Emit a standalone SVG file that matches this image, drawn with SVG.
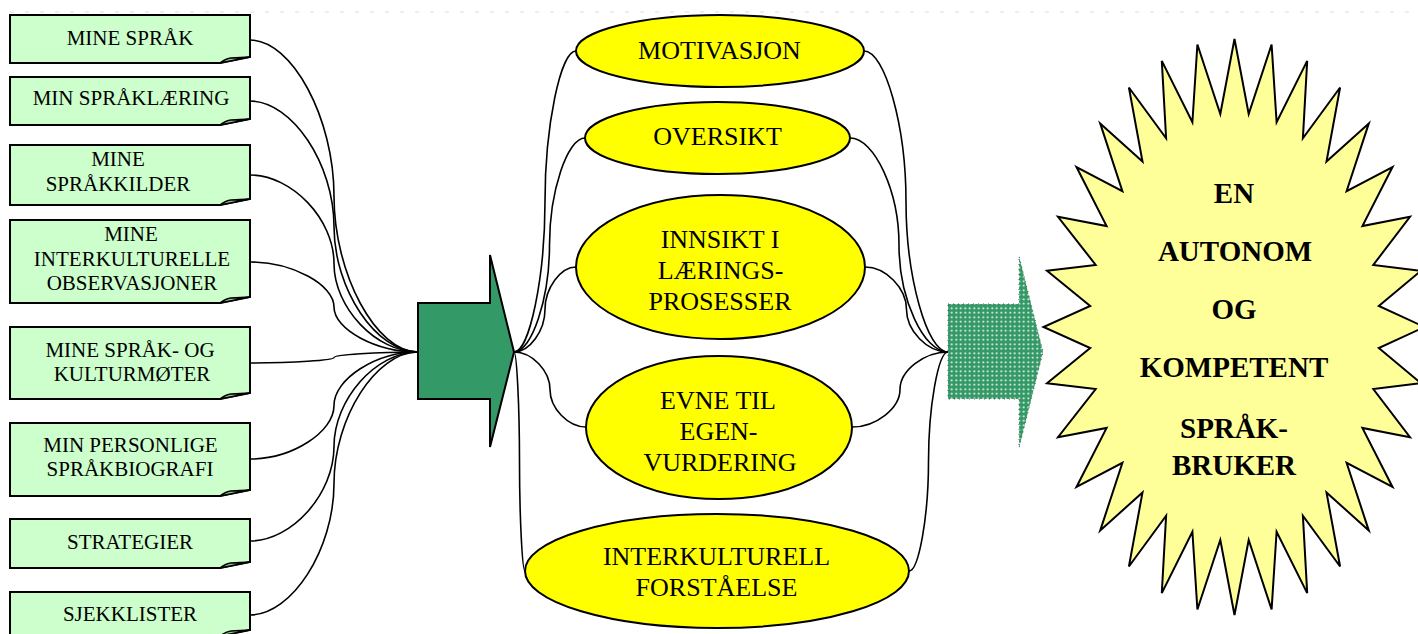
<svg xmlns="http://www.w3.org/2000/svg" width="1418" height="634" viewBox="0 0 1418 634">
<style>
.box{fill:#CCFFCC;stroke:#000;stroke-width:2}
.fold{fill:#99CC99;stroke:#000;stroke-width:1.5;stroke-linejoin:round}
.bt{font-family:"Liberation Serif","Times New Roman",serif;font-size:21px;fill:#000;text-anchor:middle}
.ell{fill:#FFFF00;stroke:#000;stroke-width:2}
.et{font-family:"Liberation Serif","Times New Roman",serif;font-size:26px;fill:#000;text-anchor:middle}
.st{font-family:"Liberation Serif","Times New Roman",serif;font-size:29px;font-weight:bold;fill:#000;text-anchor:middle}
.con path{fill:none;stroke:#000;stroke-width:1.6}
</style>
<defs>
<pattern id="dots" width="4.5" height="4.5" patternUnits="userSpaceOnUse">
<rect width="4.5" height="4.5" fill="#339966"/>
<circle cx="2.25" cy="2.25" r="1" fill="#ffffff"/>
</pattern>
</defs>
<rect width="1418" height="634" fill="#ffffff"/>
<line x1="10" y1="12" x2="1418" y2="12" stroke="#d4e0e0" stroke-width="1" stroke-dasharray="4 11"/>

<g id="star">
<polygon fill="#FFFF99" stroke="#000" stroke-width="2" stroke-linejoin="miter" points="1234.5,39 1248.7,114 1271.6,44.5 1276.6,122.2 1307.2,60.9 1302.9,138.3 1340.1,87.5 1326.5,161.6 1368.8,123.4 1346.6,191.2 1392.5,167 1362.4,226.1 1410,216.8 1373.3,264.9 1421,270.8 1378.8,306 1424.5,327 1378.8,348 1421,383.2 1373.3,389.1 1410,437.2 1362.4,427.9 1392.5,487 1346.6,462.8 1368.8,530.6 1326.5,492.4 1340.1,566.5 1302.9,515.7 1307.2,593.1 1276.6,531.8 1271.6,609.5 1248.7,540 1234.5,615 1220.3,540 1197.4,609.5 1192.4,531.8 1161.8,593.1 1166.1,515.7 1128.9,566.5 1142.5,492.4 1100.2,530.6 1122.4,462.8 1076.5,487 1106.6,427.9 1058,437.2 1095.7,389.1 1047,383.2 1090.2,348 1043.5,327 1090.2,306 1047,270.8 1095.7,264.9 1058,216.8 1106.6,226.1 1076.5,167 1122.4,191.2 1100.2,123.4 1142.5,161.6 1128.9,87.5 1166.1,138.3 1161.8,60.9 1192.4,122.2 1197.4,44.5 1220.3,114"/>
<text class="st" x="1234" y="203">EN</text>
<text class="st" x="1235" y="261">AUTONOM</text>
<text class="st" x="1234" y="319">OG</text>
<text class="st" x="1234" y="377">KOMPETENT</text>
<text class="st" x="1234" y="438">SPRÅK-</text>
<text class="st" x="1234" y="475">BRUKER</text>
</g>

<g class="con" id="connectors">
<path d="M250,40 C292,40 334,118 334,196 C334,274 376,352 418,352"/>
<path d="M250,101 C292,101 334,163.75 334,226.5 C334,289.25 376,352 418,352"/>
<path d="M250,175 C292,175 334,219.25 334,263.5 C334,307.75 376,352 418,352"/>
<path d="M250,262 C292,262 334,284.5 334,307 C334,329.5 376,352 418,352"/>
<path d="M250,363 C292,363 334,360.25 334,357.5 C334,354.75 376,352 418,352"/>
<path d="M250,459 C292,459 334,432.25 334,405.5 C334,378.75 376,352 418,352"/>
<path d="M250,541 C292,541 334,493.75 334,446.5 C334,399.25 376,352 418,352"/>
<path d="M250,615 C292,615 334,549.25 334,483.5 C334,417.75 376,352 418,352"/>
<path d="M514,352 C529.5,352 545,276.75 545,201.5 C545,126.25 560.5,51 576,51"/>
<path d="M514,352 C531.75,352 549.5,298.5 549.5,245 C549.5,191.5 567.25,138 585,138"/>
<path d="M514,352 C529.5,352 545,330.75 545,309.5 C545,288.25 560.5,267 576,267"/>
<path d="M514,352 C532,352 550,370.75 550,389.5 C550,408.25 568,427 586,427"/>
<path d="M514,352 C516.75,352 519.5,406.75 519.5,461.5 C519.5,516.25 522.25,571 525,571"/>
<path d="M864,51 C885,51 906,126.25 906,201.5 C906,276.75 927,352 948,352"/>
<path d="M850,138 C874.5,138 899,191.5 899,245 C899,298.5 923.5,352 948,352"/>
<path d="M865,267 C885.75,267 906.5,288.25 906.5,309.5 C906.5,330.75 927.25,352 948,352"/>
<path d="M852,427 C876,427 900,408.25 900,389.5 C900,370.75 924,352 948,352"/>
<path d="M909,571 C918.75,571 928.5,516.25 928.5,461.5 C928.5,406.75 938.25,352 948,352"/>
</g>

<g id="box1">
<path class="box" d="M10,15 H250 V57 L220,63 H10 Z"/>
<path class="fold" d="M220,63 C224,60 226,58.5 231,58 L250,57 Z"/>
<text class="bt" x="130" y="44.5">MINE SPRÅK</text>
</g>
<g id="box2">
<path class="box" d="M10,77 H250 V119 L220,125 H10 Z"/>
<path class="fold" d="M220,125 C224,122 226,120.5 231,120 L250,119 Z"/>
<text class="bt" x="131" y="104.5">MIN SPRÅKLÆRING</text>
</g>
<g id="box3">
<path class="box" d="M10,145 H250 V199 L220,205 H10 Z"/>
<path class="fold" d="M220,205 C224,202 226,200.5 231,200 L250,199 Z"/>
<text class="bt" x="118" y="166">MINE</text>
<text class="bt" x="118" y="191">SPRÅKKILDER</text>
</g>
<g id="box4">
<path class="box" d="M10,220 H250 V297 L220,303 H10 Z"/>
<path class="fold" d="M220,303 C224,300 226,298.5 231,298 L250,297 Z"/>
<text class="bt" x="131" y="241">MINE</text>
<text class="bt" x="132" y="265.5">INTERKULTURELLE</text>
<text class="bt" x="132" y="290">OBSERVASJONER</text>
</g>
<g id="box5">
<path class="box" d="M10,327 H250 V393 L220,399 H10 Z"/>
<path class="fold" d="M220,399 C224,396 226,394.5 231,394 L250,393 Z"/>
<text class="bt" x="130" y="357">MINE SPRÅK- OG</text>
<text class="bt" x="132" y="380.5">KULTURMØTER</text>
</g>
<g id="box6">
<path class="box" d="M10,423 H250 V490 L220,496 H10 Z"/>
<path class="fold" d="M220,496 C224,493 226,491.5 231,491 L250,490 Z"/>
<text class="bt" x="130.5" y="452">MIN PERSONLIGE</text>
<text class="bt" x="130" y="475.5">SPRÅKBIOGRAFI</text>
</g>
<g id="box7">
<path class="box" d="M10,519 H250 V562 L220,568 H10 Z"/>
<path class="fold" d="M220,568 C224,565 226,563.5 231,563 L250,562 Z"/>
<text class="bt" x="130" y="548.5">STRATEGIER</text>
</g>
<g id="box8">
<path class="box" d="M10,592 H250 V630 L220,636 H10 Z"/>
<path class="fold" d="M220,636 C224,633 226,631.5 231,631 L250,630 Z"/>
<text class="bt" x="130" y="620.5">SJEKKLISTER</text>
</g>

<g id="arrow1">
<polygon fill="#339966" stroke="#000" stroke-width="2" stroke-linejoin="miter" points="418,303 490,303 490,255 514,352 490,447 490,399 418,399"/>
</g>

<g id="arrow2">
<polygon fill="url(#dots)" stroke="#555" stroke-width="1" stroke-dasharray="1 4" points="948,304 1019,304 1019,256 1043,352 1019,448 1019,399 948,399"/>
</g>

<g id="e1">
<ellipse class="ell" cx="720" cy="51" rx="144" ry="36"/>
<text class="et" x="719.5" y="58.5">MOTIVASJON</text>
</g>
<g id="e2">
<ellipse class="ell" cx="717.5" cy="138" rx="132.5" ry="36"/>
<text class="et" x="717.5" y="145">OVERSIKT</text>
</g>
<g id="e3">
<ellipse class="ell" cx="720.5" cy="267" rx="144.5" ry="72"/>
<text class="et" x="720" y="248">INNSIKT I</text>
<text class="et" x="720.5" y="279">LÆRINGS-</text>
<text class="et" x="720" y="310">PROSESSER</text>
</g>
<g id="e4">
<ellipse class="ell" cx="719" cy="427.5" rx="133" ry="71.5"/>
<text class="et" x="718" y="409">EVNE TIL</text>
<text class="et" x="718.5" y="440">EGEN-</text>
<text class="et" x="720" y="470.5">VURDERING</text>
</g>
<g id="e5">
<ellipse class="ell" cx="717" cy="571" rx="192" ry="57"/>
<text class="et" x="716.5" y="565">INTERKULTURELL</text>
<text class="et" x="716.5" y="596">FORSTÅELSE</text>
</g>
</svg>
